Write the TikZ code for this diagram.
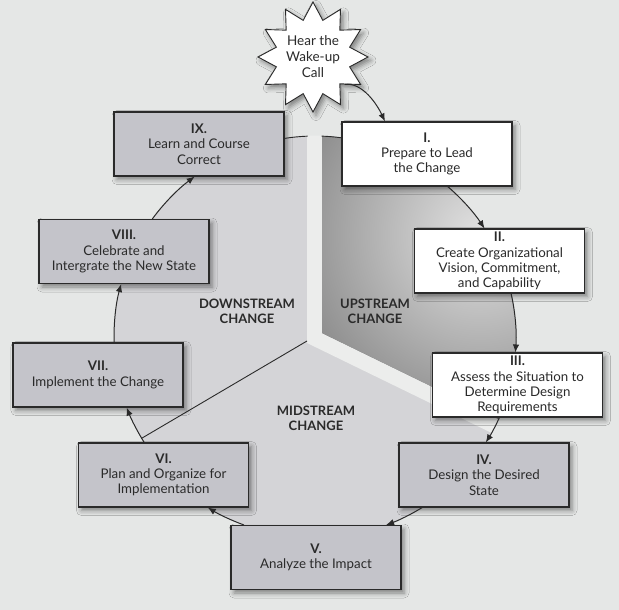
\documentclass[tikz,border=0pt]{standalone}
\usepackage{fontspec}
\setmainfont{Lato}
\usetikzlibrary{arrows.meta,shapes.geometric,shadows.blur,calc}
\definecolor{bg}{HTML}{E5E7E6}
\definecolor{sector}{HTML}{D4D4D7}
\definecolor{band}{HTML}{ECEDEC}
\definecolor{boxgray}{HTML}{C4C4CA}
\definecolor{ink}{HTML}{2A2A2A}
\definecolor{updark}{HTML}{828282}
\definecolor{uplight}{HTML}{E2E2E2}
\begin{document}
\begin{tikzpicture}[x=1pt,y=1pt,
  stage/.style={draw=ink, line width=1.1pt, minimum width=170pt, minimum height=64pt,
    inner sep=0pt, align=center, text=ink, font=\fontsize{13.3}{15.3}\selectfont,
    blur shadow={shadow xshift=3pt, shadow yshift=-3.5pt, shadow blur radius=5pt, shadow opacity=45}},
  graystage/.style={stage, fill=boxgray},
  whitestage/.style={stage, fill=white},
  flow/.style={draw=ink, line width=1pt, -{Latex[length=8pt,width=6.5pt]}, looseness=0.85},
  rim/.style={draw=ink, line width=0.9pt},
  zone/.style={font=\bfseries\fontsize{13}{15}\selectfont, text=ink, align=center}
]
\useasboundingbox (0,0) rectangle (619,-610);
\fill[bg] (0,0) rectangle (619,-610);
\coordinate (C) at (315,-337);
\fill[sector] (C) circle (201pt);
\begin{scope}
  \clip (C) circle (201.5pt);
  \fill[band] (307,-100) -- (307,-343) -- (577,-474.5) -- (592,-464.5) -- (322,-333) -- (322,-100) -- cycle;
\end{scope}
% upstream sector
\fill[updark] (322,-333) -- (322,-136.1) arc[start angle=88, end angle=-24.1, radius=201pt] -- cycle;
\begin{scope}
  \clip (322,-333) -- (322,-136.1) arc[start angle=88, end angle=-24.1, radius=201pt] -- cycle;
  \shade[inner color=uplight, outer color=updark] (480,-235) circle (215pt);
\end{scope}
\coordinate (J) at (307,-341);
\coordinate (K) at ($(C)+(-149.7:201pt)$);
\draw[rim] (J) -- (K);

% stages
\node[whitestage] (I) at (427,-154) {{\bfseries I.}\\Prepare to Lead\\the Change};
\node[whitestage] (II) at (499.5,-261) {{\bfseries II.}\\Create Organizational\\Vision, Commitment,\\and Capability};
\node[whitestage] (III) at (517.5,-385) {{\bfseries III.}\\Assess the Situation to\\Determine Design\\Requirements};
\node[graystage] (IV) at (484,-475) {{\bfseries IV.}\\Design the Desired\\State};
\node[graystage] (V) at (316,-557.5) {{\bfseries V.}\\Analyze the Impact};
\node[graystage] (VI) at (163.5,-475) {{\bfseries VI.}\\Plan and Organize for\\Implementation};
\node[graystage] (VII) at (98,-375) {{\bfseries VII.}\\Implement the Change};
\node[graystage] (VIII) at (124,-251.5) {{\bfseries VIII.}\\Celebrate and\\Intergrate the New State};
\node[graystage] (IX) at (199,-144) {{\bfseries IX.}\\Learn and Course\\Correct};

\node[star, star points=12, star point ratio=1.45, minimum size=108pt, inner sep=0pt,
  draw=ink, line width=0.9pt, fill=white, align=center, text=ink,
  font=\fontsize{13.5}{16}\selectfont,
  blur shadow={shadow xshift=3pt, shadow yshift=-3.5pt, shadow blur radius=5pt, shadow opacity=45}]
  (wake) at (313,-57) {Hear the\\Wake-up\\Call};

% rim arcs between IX and I
\draw[rim] ([yshift=5.6pt]IX.east) arc[start angle=98.9, end angle=92.3, radius=201pt];
\draw[rim] ([yshift=16.2pt]I.west) arc[start angle=82.3, end angle=88, radius=201pt];

% flow
\draw[flow] (wake.-41) to[out=8,in=115] ([xshift=-42pt]I.north);
\draw[flow] ([xshift=20.7pt]I.south) to[bend left=8.1] ([xshift=-15pt]II.north);
\draw[flow] ([xshift=11.6pt]II.south) to[bend left=8.6] ([xshift=-2.1pt]III.north);
\draw[flow] ([xshift=-18.1pt]III.south) to[bend left=4.2] ([xshift=1.8pt]IV.north);
\draw[flow] ([xshift=-61.8pt]IV.south) to[bend left=5.75] ([xshift=70.1pt]V.north);
\draw[flow] ([xshift=-72.1pt]V.north) to[bend left=5.75] ([xshift=44.3pt]VI.south);
\draw[flow] ([xshift=-19.3pt]VI.north) to[bend left=5.1] ([xshift=28.6pt]VII.south);
\draw[flow] ([xshift=16.1pt]VII.north) to[bend left=8.5] ([xshift=-2.9pt]VIII.south);
\draw[flow] ([xshift=28.3pt]VIII.north) to[bend left=8.6] ([xshift=-4.3pt]IX.south);

% zone labels
\node[zone] (down) at (247,-311.5) {DOWNSTREAM\\CHANGE};
\node[zone] (up) at (375,-311.5) {UPSTREAM\\CHANGE};
\node[zone] (mid) at (316,-418) {MIDSTREAM\\CHANGE};
\end{tikzpicture}
\end{document}
